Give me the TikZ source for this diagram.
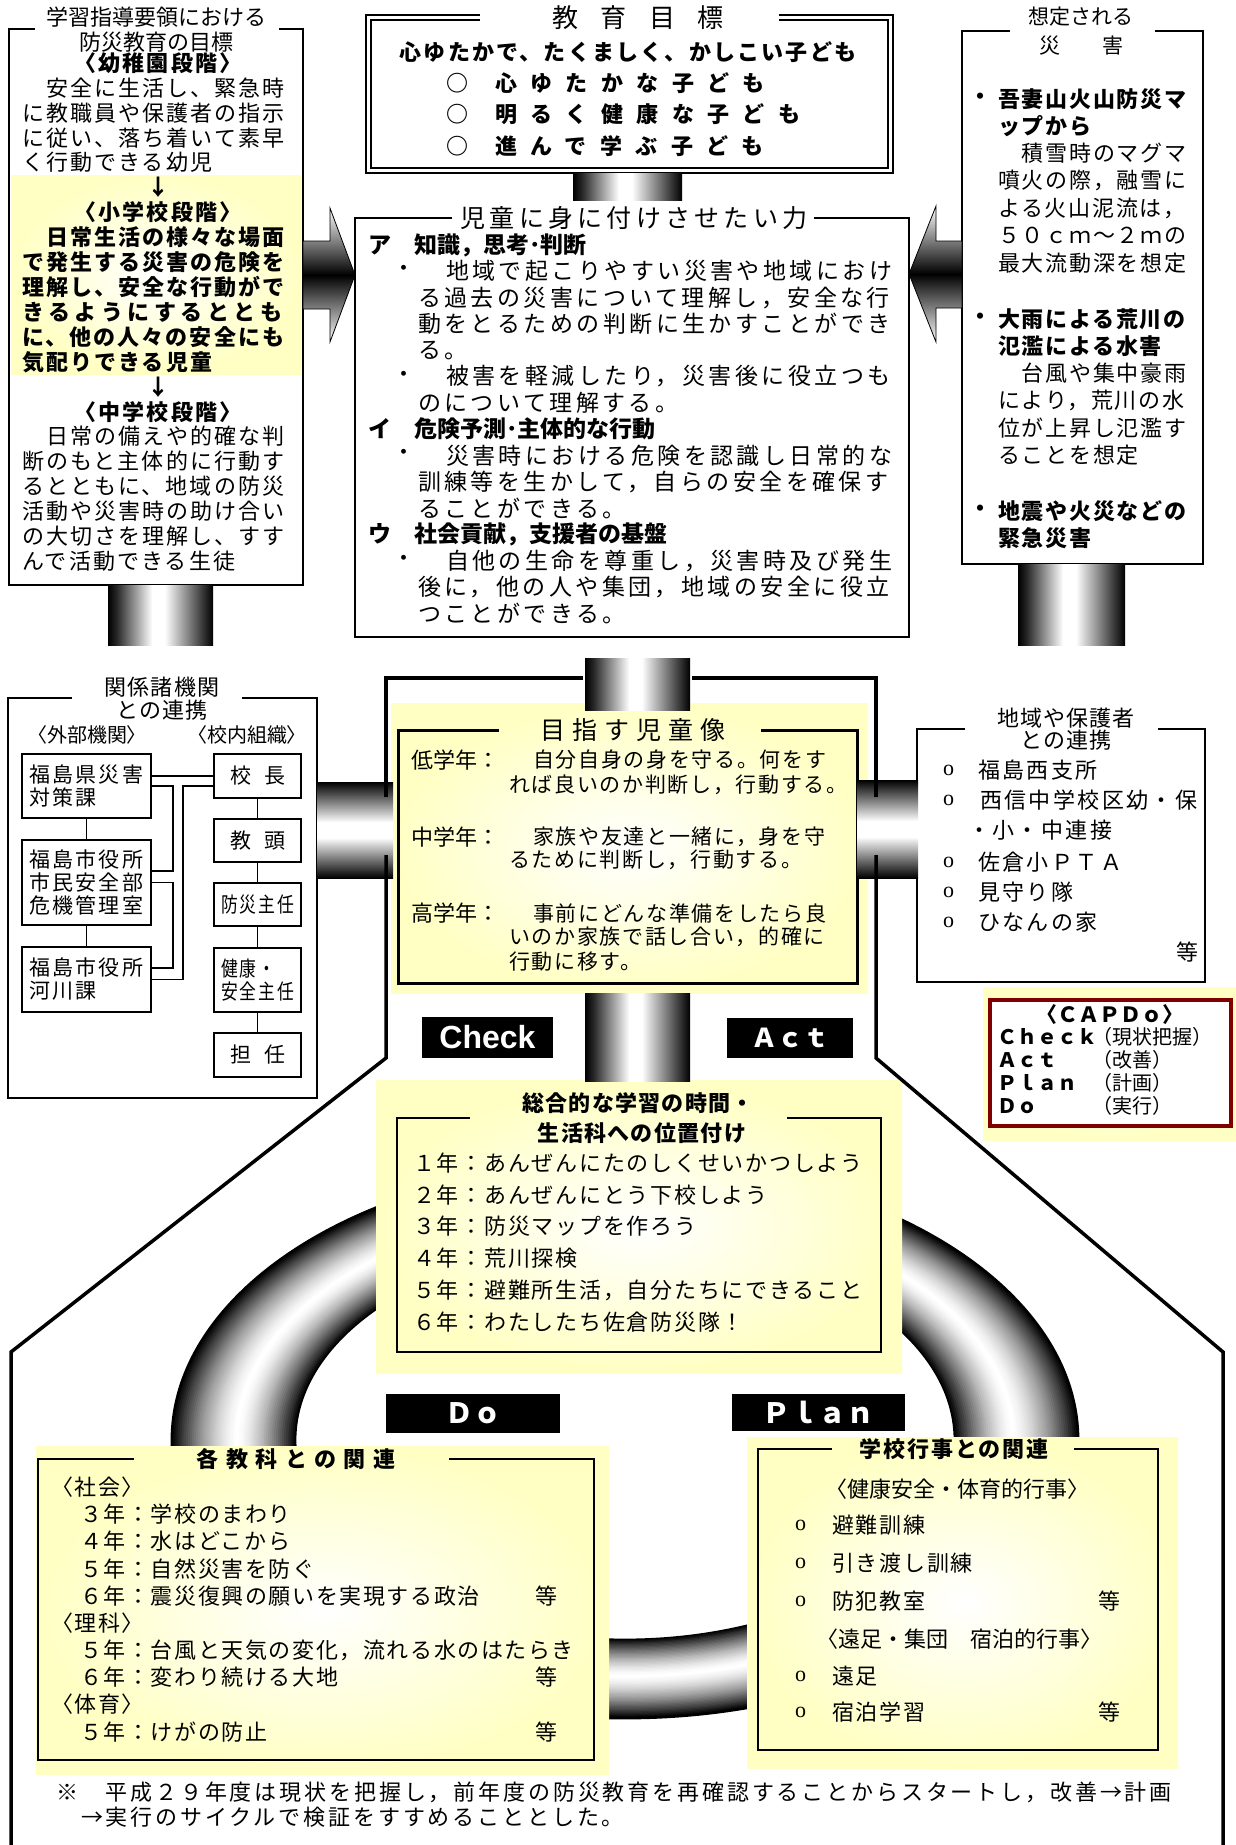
\documentclass[tikz,border=0pt]{standalone}
\usepackage{fontspec}
\usepackage{graphicx}
\setmainfont{Noto Sans CJK JP}
\newfontfamily\lsans{Liberation Sans}
\newfontfamily\lserif{Liberation Serif}
\newcommand\jfs[2]{\fontsize{#1}{#1}\selectfont\addfontfeature{LetterSpace=#2}}
\newcommand\mkrows[6]{\foreach \s [count=\i from 0] in {#6}{\node[T,name=#1\i] at (#3,{#4+#5*\i}) {#2\s};}}
\definecolor{pyel}{RGB}{255,255,195}
\definecolor{dred}{RGB}{128,0,0}
\pgfdeclarehorizontalshading{cylH}{100bp}{color(0bp)=(black); color(25bp)=(black); color(29bp)=(black!85); color(46bp)=(white); color(52bp)=(white); color(75bp)=(black); color(100bp)=(black)}
\pgfdeclareverticalshading{cylV}{100bp}{color(0bp)=(black); color(25bp)=(black); color(46bp)=(white); color(54bp)=(white); color(75bp)=(black); color(100bp)=(black)}
\begin{document}
\begin{tikzpicture}[x=1pt,y=-1pt,
 T/.style={inner sep=0pt,outer sep=0pt,anchor=west},
 C/.style={inner sep=0pt,outer sep=0pt,anchor=center},
 bl/.style={line width=2pt},
 thn/.style={line width=1.5pt},
 glow/.style={inner color=white,outer color=pyel},
 lab/.style={fill=black,text=white,inner sep=0pt,outer sep=0pt},
 ob/.style={draw,line width=1.5pt,inner sep=0pt,outer sep=0pt,font={\fontsize{21}{23}\selectfont\addfontfeature{LetterSpace=11}}},
 frm/.style={line width=3.5pt},
]
\useasboundingbox (0,0) rectangle (1236,1845);
\fill[white] (0,0) rectangle (1236,1845);

% ---------- ring (tube) ----------
\foreach \k in {0,...,60}{
 \pgfmathsetmacro\t{\k/60}
 \pgfmathsetmacro\rx{330+123*\t}
 \pgfmathsetmacro\ry{200+78*\t}
 \pgfmathsetmacro\u{abs(\t<0.47 ? (0.47-\t)/0.47 : (\t-0.47)/0.53)}
 \pgfmathsetmacro\g{round(max(0,min(100,100*\u*sqrt(\u))))}
 \draw[black!\g, line width=2.8pt] (625,1440) ellipse [x radius=\rx pt, y radius=\ry pt];
}

% ---------- yellow glows ----------
\shade[glow] (11,175) rectangle (301,374);
\shade[glow] (391,703) rectangle (868,993);
\shade[glow] (376,1080) rectangle (902,1373);
\shade[glow] (36,1446) rectangle (609,1774);
\shade[glow] (747,1437) rectangle (1178,1768);
\shade[glow] (983,987) rectangle (1236,1140);

% ---------- top-left box ----------
\draw[bl] (35,29) -- (9,29) -- (9,585) -- (303,585) -- (303,29) -- (279,29);
\node[C,font=\jfs{22}{0}] (tlT1) at (156,17) {学習指導要領における};
\node[C,font=\jfs{22}{0}] (tlT2) at (156,42) {防災教育の目標};
\node[C,font=\bfseries\jfs{22}{9.5}] (tlA) at (158,63) {〈幼稚園段階〉};
\mkrows{tla}{\jfs{22}{9.5}}{22}{87.9}{24.9}{　安全に生活し、緊急時,に教職員や保護者の指示,に従い、落ち着いて素早,く行動できる幼児}
\node[C,font=\bfseries\jfs{22}{0}] (tlB) at (158,187.5) {↓};
\node[C,font=\bfseries\jfs{22}{9.5}] (tlC) at (158,212.4) {〈小学校段階〉};
\mkrows{tlb}{\bfseries\jfs{22}{9.5}}{22}{237.3}{24.9}{　日常生活の様々な場面,で発生する災害の危険を,理解し、安全な行動がで}
\node[T,font=\bfseries\jfs{22}{20.5}] (tlb3) at (22,312) {きるようにするととも};
\mkrows{tlbb}{\bfseries\jfs{22}{9.5}}{22}{336.9}{24.9}{に、他の人々の安全にも,気配りできる児童}
\node[C,font=\bfseries\jfs{22}{0}] (tlD) at (158,386.7) {↓};
\node[C,font=\bfseries\jfs{22}{9.5}] (tlE) at (158,411.6) {〈中学校段階〉};
\mkrows{tlc}{\jfs{22}{9.5}}{22}{436.5}{24.9}{　日常の備えや的確な判,断のもと主体的に行動す,るとともに、地域の防災,活動や災害時の助け合い,の大切さを理解し、すす,んで活動できる生徒}

% ---------- goal box ----------
\draw[line width=1.6pt] (480,15) -- (366,15) -- (366,173) -- (893,173) -- (893,15) -- (779,15);
\draw[line width=1.2pt] (480,20) -- (371,20) -- (371,168) -- (888,168) -- (888,20) -- (779,20);
\node[C,font=\jfs{26}{85}] (goalT) at (638,18) {教育目標};
\node[C,font=\bfseries\jfs{22}{10}] (goal0) at (628,52) {心ゆたかで、たくましく、かしこい子ども};
\mkrows{gc}{\bfseries\jfs{22}{0}}{446}{83}{31.5}{○,○,○}
\mkrows{gl}{\bfseries\jfs{22}{61}}{495}{83}{31.5}{心ゆたかな子ども,明るく健康な子ども,進んで学ぶ子ども}

% ---------- middle box ----------
\draw[bl] (452,218) -- (355,218) -- (355,637) -- (909,637) -- (909,218) -- (814,218);
\node[C,font=\jfs{25}{17}] (midT) at (634,218) {児童に身に付けさせたい力};
\node[T,font=\bfseries\jfs{23}{0}] (ma) at (368,245) {ア　知識，思考･判断};
\node[T,font=\jfs{23}{0}] (mb1) at (392,271.3) {・};
\node[T,font=\jfs{23}{15}] (mt1) at (446,271.3) {地域で起こりやすい災害や地域におけ};
\mkrows{mc}{\jfs{23}{15}}{418}{297.6}{26.3}{る過去の災害について理解し，安全な行,動をとるための判断に生かすことができ,る。}
\node[T,font=\jfs{23}{0}] (mb2) at (392,376.5) {・};
\node[T,font=\jfs{23}{15}] (mt2) at (446,376.5) {被害を軽減したり，災害後に役立つも};
\node[T,font=\jfs{23}{15}] (md) at (418,402.8) {のについて理解する。};
\node[T,font=\bfseries\jfs{23}{0}] (mi) at (368,429.1) {イ　危険予測･主体的な行動};
\node[T,font=\jfs{23}{0}] (mb3) at (392,455.4) {・};
\node[T,font=\jfs{23}{15}] (mt3) at (446,455.4) {災害時における危険を認識し日常的な};
\mkrows{me}{\jfs{23}{15}}{418}{481.7}{26.3}{訓練等を生かして，自らの安全を確保す,ることができる。}
\node[T,font=\bfseries\jfs{23}{0}] (mu) at (368,534.3) {ウ　社会貢献，支援者の基盤};
\node[T,font=\jfs{23}{0}] (mb4) at (392,560.6) {・};
\node[T,font=\jfs{23}{15}] (mt4) at (446,560.6) {自他の生命を尊重し，災害時及び発生};
\mkrows{mf}{\jfs{23}{15}}{418}{586.9}{26.3}{後に，他の人や集団，地域の安全に役立,つことができる。}

% ---------- right box ----------
\draw[bl] (1010,31) -- (962,31) -- (962,564) -- (1203,564) -- (1203,31) -- (1155,31);
\node[C,font=\jfs{21}{0}] (rbT1) at (1081,17) {想定される};
\node[C,font=\jfs{21}{0}] (rbT2) at (1081,46) {災　　害};
\node[T,font=\bfseries\jfs{22}{0}] (rbd1) at (969,99) {・};
\mkrows{rba}{\bfseries\jfs{22}{8}}{998}{99}{27.3}{吾妻山火山防災マ,ップから}
\mkrows{rbb}{\jfs{22}{8}}{998}{153.6}{27.3}{　積雪時のマグマ,噴火の際，融雪に,よる火山泥流は，,５０ｃｍ～２ｍの,最大流動深を想定}
\node[T,font=\bfseries\jfs{22}{0}] (rbd2) at (969,319) {・};
\mkrows{rbc}{\bfseries\jfs{22}{8}}{998}{319}{27.3}{大雨による荒川の,氾濫による水害}
\mkrows{rbe}{\jfs{22}{8}}{998}{373.6}{27.3}{　台風や集中豪雨,により，荒川の水,位が上昇し氾濫す,ることを想定}
\node[T,font=\bfseries\jfs{22}{0}] (rbd3) at (969,511) {・};
\mkrows{rbf}{\bfseries\jfs{22}{8}}{998}{511}{27.3}{地震や火災などの,緊急災害}

% ---------- arrows ----------
\shade[top color=white,bottom color=white,middle color=black,draw=black,line width=0.8pt] (303,241) -- (330,241) -- (330,208) -- (355,275) -- (330,342) -- (330,309) -- (303,309) -- cycle;
\shade[top color=white,bottom color=white,middle color=black,draw=black,line width=0.8pt] (962,241) -- (936,241) -- (936,206) -- (909,274) -- (936,342) -- (936,308) -- (962,308) -- cycle;

% ---------- relations box ----------
\draw[thn] (72,698) -- (8,698) -- (8,1098) -- (317,1098) -- (317,698) -- (242,698);
\node[C,font=\jfs{22}{6}] (kT1) at (162,687) {関係諸機関};
\node[C,font=\jfs{22}{6}] (kT2) at (162,710) {との連携};
\node[C,font=\jfs{20}{0}\addfontfeature{RawFeature=+palt}] (kA) at (87,735) {〈外部機関〉};
\node[C,font=\jfs{20}{0}\addfontfeature{RawFeature=+palt}] (kB) at (247,735) {〈校内組織〉};
\node[ob,inner xsep=7pt,text width=115pt,minimum height=64pt,align=left] (f1) at (86.5,786) {福島県災害\\対策課};
\node[ob,inner xsep=7pt,text width=115pt,minimum height=85pt,align=left] (f2) at (86.5,882.5) {福島市役所\\市民安全部\\危機管理室};
\node[ob,inner xsep=7pt,text width=115pt,minimum height=65pt,align=left] (f3) at (86.5,979.5) {福島市役所\\河川課};
\node[ob,minimum width=87pt,minimum height=44pt] (s1) at (257.5,776) {校\hspace{13pt}長};
\node[ob,minimum width=87pt,minimum height=43pt] (s2) at (257.5,840.5) {教\hspace{13pt}頭};
\node[ob,minimum width=87pt,minimum height=43pt] (s3) at (257.5,904.5) {\scalebox{0.8}[1]{防災主任}};
\node[ob,minimum width=87pt,minimum height=64pt,align=left] (s4) at (257.5,980) {\scalebox{0.8}[1]{健康・}\\\scalebox{0.8}[1]{安全主任}};
\node[ob,minimum width=87pt,minimum height=44pt] (s5) at (257.5,1055) {担\hspace{13pt}任};
\draw[thn] ([yshift=10pt]f1.east) -- (s1.west);
\draw[thn] (f1.east) -| ([xshift=22pt,yshift=11.5pt]f2.east) -- ([yshift=11.5pt]f2.east);
\draw[thn] (f2.east) -| ([xshift=22pt,yshift=11.5pt]f3.east) -- ([yshift=11.5pt]f3.east);
\draw[thn] ([yshift=-10pt]s1.west) -| ([xshift=32pt]f3.east) -- (f3.east);
\draw[thn] (f1.south) -- (f2.north);
\draw[thn] (f2.south) -- (f3.north);
\draw[thn] (s1.south) -- (s2.north);
\draw[thn] (s2.south) -- (s3.north);
\draw[thn] (s3.south) -- (s4.north);
\draw[thn] (s4.south) -- (s5.north);

% ---------- community box ----------
\draw[thn] (965,729) -- (917,729) -- (917,982) -- (1205,982) -- (1205,729) -- (1158,729);
\node[C,font=\jfs{22}{4}] (cT1) at (1066,718) {地域や保護者};
\node[C,font=\jfs{22}{4}] (cT2) at (1066,740) {との連携};
\foreach \yy [count=\j] in {770,800,862,892,922}{\node[T,font=\lserif\fontsize{22}{22}\selectfont,name=co\j] at (943,\yy) {o};}
\node[T,font=\jfs{22}{11}] (ci1) at (978,770) {福島西支所};
\node[T,font=\jfs{22}{11}] (ci2) at (980,800) {西信中学校区幼・保};
\node[T,font=\jfs{22}{11}] (ci3) at (968,830) {・小・中連接};
\node[T,font=\jfs{22}{11}] (ci4) at (978,862) {佐倉小ＰＴＡ};
\node[T,font=\jfs{22}{11}] (ci5) at (978,892) {見守り隊};
\node[T,font=\jfs{22}{11}] (ci6) at (978,922) {ひなんの家};
\node[T,font=\jfs{22}{0}] (ci7) at (1176,952) {等};

% ---------- CAPDo ----------
\draw[line width=4.5pt,draw=dred,fill=white] (990,1000) rectangle (1231,1126);
\node[C,font=\bfseries\jfs{21}{0}] (cp0) at (1110,1015) {〈ＣＡＰＤｏ〉};
\mkrows{cpa}{\bfseries\jfs{20}{0}}{997}{1037}{23}{Ｃｈｅｃｋ,Ａｃｔ,Ｐｌａｎ,Ｄｏ}
\mkrows{cpb}{\jfs{20}{0}}{1092}{1037}{23}{（現状把握）,（改善）,（計画）,（実行）}

% ---------- aim section ----------
\draw[line width=3pt] (499,730) -- (398,730) -- (398,983) -- (857,983) -- (857,730) -- (761,730);
\node[C,font=\jfs{25}{28}] (aimT) at (633,730) {目指す児童像};
\node[T,font=\jfs{22}{0}] (al) at (411,760) {低学年：};
\node[T,font=\jfs{22}{0}] (am) at (411,837) {中学年：};
\node[T,font=\jfs{22}{0}] (ah) at (411,913) {高学年：};
\node[T,font=\jfs{21}{8}] (a1) at (533,760) {自分自身の身を守る。何をす};
\node[T,font=\jfs{21}{8}] (a2) at (509,785) {れば良いのか判断し，行動する。};
\node[T,font=\jfs{21}{8}] (a3) at (533,837) {家族や友達と一緒に，身を守};
\node[T,font=\jfs{21}{8}] (a4) at (509,860) {るために判断し，行動する。};
\node[T,font=\jfs{21}{8}] (a5) at (533,913) {事前にどんな準備をしたら良};
\node[T,font=\jfs{21}{8}] (a6) at (509,937) {いのか家族で話し合い，的確に};
\node[T,font=\jfs{21}{8}] (a7) at (509,962) {行動に移す。};

% ---------- integrated study ----------
\draw[bl] (470,1118) -- (397,1118) -- (397,1352) -- (881,1352) -- (881,1118) -- (787,1118);
\node[C,font=\bfseries\jfs{22}{6}] (sgT1) at (638,1103) {総合的な学習の時間・};
\node[C,font=\bfseries\jfs{22}{6}] (sgT2) at (642,1133) {生活科への位置付け};
\mkrows{sg}{\jfs{22}{8}}{413}{1163}{31.8}{１年：あんぜんにたのしくせいかつしよう,２年：あんぜんにとう下校しよう,３年：防災マップを作ろう,４年：荒川探検,５年：避難所生活，自分たちにできること,６年：わたしたち佐倉防災隊！}

% ---------- subjects ----------
\draw[bl] (134,1459) -- (38,1459) -- (38,1760) -- (594,1760) -- (594,1459) -- (449,1459);
\node[C,font=\bfseries\jfs{22}{34}] (kkT) at (296,1459) {各教科との関連};
\mkrows{kk}{\jfs{22}{7.3}}{80}{1487}{27.2}{{\addfontfeature{RawFeature=+palt}\hspace*{-18pt}〈社会〉},３年：学校のまわり,４年：水はどこから,５年：自然災害を防ぐ,６年：震災復興の願いを実現する政治,{\addfontfeature{RawFeature=+palt}\hspace*{-18pt}〈理科〉},５年：台風と天気の変化，流れる水のはたらき,６年：変わり続ける大地,{\addfontfeature{RawFeature=+palt}\hspace*{-18pt}〈体育〉},５年：けがの防止}
\foreach \yy [count=\j] in {1595.8,1677.4,1731.8}{\node[T,font=\jfs{22}{0},name=kt\j] at (535,\yy) {等};}

% ---------- school events ----------
\draw[bl] (832,1449) -- (758,1449) -- (758,1750) -- (1158,1750) -- (1158,1449) -- (1074,1449);
\node[C,font=\bfseries\jfs{22}{9}] (seT) at (954,1449) {学校行事との関連};
\node[C,font=\jfs{22}{0}] (se1) at (957,1489) {〈健康安全・体育的行事〉};
\node[C,font=\jfs{22}{0}] (se5) at (959,1639) {〈遠足・集団　宿泊的行事〉};
\foreach \yy [count=\j] in {1525,1563,1601,1676,1712}{\node[T,font=\lserif\fontsize{22}{22}\selectfont,name=so\j] at (795,\yy) {o};}
\node[T,font=\jfs{22}{8}] (se2) at (832,1525) {避難訓練};
\node[T,font=\jfs{22}{8}] (se3) at (832,1563) {引き渡し訓練};
\node[T,font=\jfs{22}{8}] (se4) at (832,1601) {防犯教室};
\node[T,font=\jfs{22}{8}] (se6) at (832,1676) {遠足};
\node[T,font=\jfs{22}{8}] (se7) at (832,1712) {宿泊学習};
\node[T,font=\jfs{22}{0}] (se8) at (1098,1601) {等};
\node[T,font=\jfs{22}{0}] (se9) at (1098,1712) {等};

% ---------- cylinders ----------
\shade[shading=cylH] (573,173) rectangle (682,200);
\shade[shading=cylH] (108,585) rectangle (213,645);
\shade[shading=cylH] (1018,564) rectangle (1125,645);
\shade[shading=cylH] (585,658) rectangle (690,710);
\shade[shading=cylH] (585,993) rectangle (690,1081);
\shade[shading=cylV] (317,782) rectangle (393,878);
\shade[shading=cylV] (857,780) rectangle (918,878);

% ---------- frame ----------
\draw[frm] (583,678) -- (386,678) -- (386,797);
\draw[frm] (386,855) -- (386,1058) -- (11,1352) -- (11,1850);
\draw[frm] (692,678) -- (876,678) -- (876,797);
\draw[frm] (876,855) -- (876,1058) -- (1223,1352) -- (1223,1850);

% ---------- PDCA labels ----------
\node[lab,minimum width=131pt,minimum height=41pt,font=\lsans\bfseries\fontsize{32}{32}\selectfont] (chk) at (487.5,1037.5) {Check};
\node[lab,minimum width=126pt,minimum height=40pt,font=\bfseries\jfs{26}{0}] (act) at (790,1038) {Ａｃｔ};
\node[lab,minimum width=174pt,minimum height=39pt,font=\bfseries\jfs{28}{0}] (do) at (473,1413.5) {Ｄｏ};
\node[lab,minimum width=173pt,minimum height=37pt,font=\bfseries\jfs{28}{0}] (plan) at (818.5,1412.5) {Ｐｌａｎ};

% ---------- footer ----------
\node[T,font=\jfs{22}{13}] (ft1) at (56,1792) {※　平成２９年度は現状を把握し，前年度の防災教育を再確認することからスタートし，改善→計画};
\node[T,font=\jfs{22}{13}] (ft2) at (81,1817) {→実行のサイクルで検証をすすめることとした。};
\end{tikzpicture}
\end{document}
